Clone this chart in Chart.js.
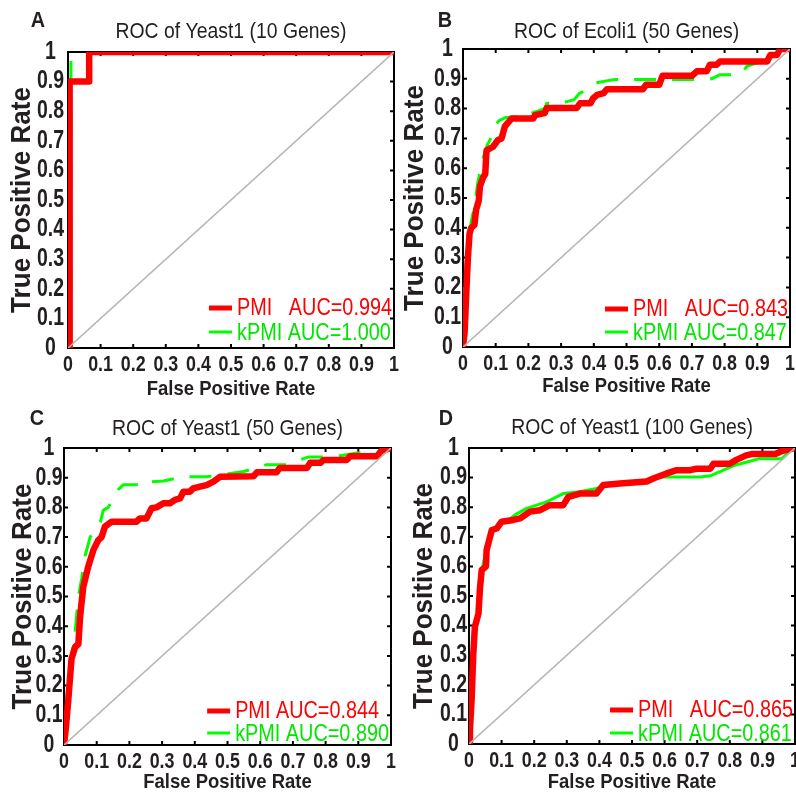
<!DOCTYPE html>
<html lang="en">
<head>
<meta charset="UTF-8">
<title>ROC curves</title>
<script src="https://cdn.jsdelivr.net/npm/chart.js"></script>
<style>
  body { margin: 0; background: #fff; width: 796px; height: 794px; overflow: hidden; position: relative; }
  canvas { position: absolute; }
</style>
</head>
<body>
<canvas id="rocA"></canvas>
<canvas id="rocB"></canvas>
<canvas id="rocC"></canvas>
<canvas id="rocD"></canvas>
<script>
// axis ticks, shared by all four panels
const tickValues = [0, 0.1, 0.2, 0.3, 0.4, 0.5, 0.6, 0.7, 0.8, 0.9, 1];
const tickLabels = ["0", "0.1", "0.2", "0.3", "0.4", "0.5", "0.6", "0.7", "0.8", "0.9", "1"];

// [FPR, TPR] points
const pmiA  = [[0.005,0],[0.005,0.9],[0.065,0.9],[0.065,1],[1,1]];
const kpmiA = [[0.009,0],[0.009,1],[1,1]];

const pmiB = [[0,0],[0.005,0.05],[0.01,0.18],[0.015,0.3],[0.02,0.38],[0.025,0.4],[0.035,0.41],[0.04,0.46],
  [0.048,0.49],[0.052,0.54],[0.062,0.57],[0.068,0.58],[0.072,0.66],[0.092,0.672],[0.107,0.695],[0.118,0.7],
  [0.128,0.74],[0.149,0.767],[0.215,0.767],[0.22,0.778],[0.25,0.785],[0.256,0.802],[0.348,0.802],[0.358,0.818],
  [0.39,0.818],[0.398,0.835],[0.41,0.846],[0.43,0.852],[0.44,0.865],[0.55,0.865],[0.56,0.88],[0.6,0.88],
  [0.61,0.91],[0.7,0.91],[0.715,0.925],[0.745,0.925],[0.755,0.947],[0.776,0.947],[0.786,0.958],[0.93,0.958],
  [0.94,0.98],[0.96,0.98],[0.97,1],[1,1]];
const kpmiB = [[0,0],[0.005,0.2],[0.012,0.32],[0.025,0.42],[0.035,0.47],[0.045,0.55],[0.06,0.63],[0.075,0.68],
  [0.085,0.7],[0.1,0.745],[0.11,0.76],[0.13,0.77],[0.2,0.775],[0.21,0.785],[0.25,0.8],[0.256,0.818],[0.3,0.818],
  [0.34,0.83],[0.355,0.85],[0.39,0.87],[0.405,0.886],[0.465,0.898],[0.75,0.898],[0.76,0.9],[0.786,0.914],
  [0.85,0.914],[0.868,0.942],[0.89,0.95],[0.94,0.97],[0.97,1],[1,1]];

const pmiC = [[0,0],[0.005,0.05],[0.013,0.15],[0.023,0.29],[0.034,0.33],[0.044,0.34],[0.049,0.43],[0.059,0.533],
  [0.074,0.6],[0.09,0.657],[0.105,0.69],[0.115,0.7],[0.125,0.735],[0.146,0.752],[0.222,0.752],[0.232,0.763],
  [0.252,0.763],[0.268,0.797],[0.283,0.8],[0.304,0.814],[0.324,0.814],[0.339,0.825],[0.355,0.83],[0.365,0.853],
  [0.385,0.853],[0.395,0.864],[0.416,0.87],[0.436,0.875],[0.457,0.887],[0.477,0.903],[0.58,0.905],[0.59,0.918],
  [0.65,0.918],[0.66,0.933],[0.743,0.933],[0.753,0.95],[0.784,0.95],[0.794,0.96],[0.865,0.96],[0.875,0.972],
  [0.957,0.972],[0.97,0.99],[1,1]];
const kpmiC = [[0,0],[0.005,0.1],[0.013,0.22],[0.023,0.3],[0.034,0.38],[0.044,0.5],[0.054,0.56],[0.064,0.635],
  [0.08,0.7],[0.1,0.73],[0.11,0.745],[0.12,0.79],[0.135,0.8],[0.166,0.86],[0.181,0.876],[0.25,0.876],
  [0.253,0.885],[0.304,0.889],[0.365,0.903],[0.436,0.903],[0.508,0.914],[0.55,0.921],[0.62,0.944],[0.68,0.944],
  [0.748,0.97],[0.824,0.97],[0.896,0.983],[0.957,0.983],[0.98,0.994],[1,1]];

const pmiD = [[0,0],[0.003,0.05],[0.008,0.15],[0.013,0.3],[0.018,0.396],[0.029,0.44],[0.034,0.53],[0.039,0.588],
  [0.052,0.6],[0.054,0.655],[0.07,0.723],[0.085,0.728],[0.1,0.751],[0.136,0.757],[0.157,0.762],[0.187,0.785],
  [0.218,0.79],[0.248,0.807],[0.289,0.807],[0.305,0.835],[0.34,0.846],[0.391,0.846],[0.412,0.875],[0.463,0.88],
  [0.524,0.885],[0.545,0.887],[0.565,0.897],[0.606,0.914],[0.637,0.925],[0.678,0.925],[0.698,0.93],[0.74,0.93],
  [0.75,0.947],[0.8,0.947],[0.82,0.96],[0.85,0.975],[0.87,0.98],[0.94,0.98],[0.96,0.99],[1,1]];
const kpmiD = [[0,0],[0.005,0.12],[0.01,0.25],[0.018,0.4],[0.029,0.45],[0.034,0.52],[0.042,0.6],[0.05,0.64],
  [0.059,0.68],[0.07,0.715],[0.085,0.73],[0.1,0.745],[0.12,0.755],[0.141,0.774],[0.177,0.796],[0.238,0.818],
  [0.289,0.846],[0.34,0.852],[0.391,0.863],[0.42,0.872],[0.46,0.878],[0.5,0.885],[0.54,0.892],[0.575,0.902],
  [0.71,0.902],[0.74,0.906],[0.77,0.92],[0.81,0.94],[0.87,0.958],[0.89,0.964],[0.96,0.964],[0.98,0.985],[1,1]];

const diagonal = [[0,0],[1,1]];

const letters = ["A", "B", "C", "D"];
const titles = ["ROC of Yeast1 (10 Genes)", "ROC of Ecoli1 (50 Genes)", "ROC of Yeast1 (50 Genes)", "ROC of Yeast1 (100 Genes)"];
const pmiLabels = ["PMI   AUC=0.994", "PMI   AUC=0.843", "PMI AUC=0.844", "PMI   AUC=0.865"];
const kpmiLabels = ["kPMI AUC=1.000", "kPMI AUC=0.847", "kPMI AUC=0.890", "kPMI AUC=0.861"];
const pmiSeries = [pmiA, pmiB, pmiC, pmiD];
const kpmiSeries = [kpmiA, kpmiB, kpmiC, kpmiD];

const FONT = "'Liberation Sans', Arial, sans-serif";
const INK = "#231f20";
const RED = "#ff0000";
const GREEN = "#00ff00";

// the figure uses a condensed face: each text size gets its own horizontal squeeze
const SQUEEZE = { "25": 0.78, "21.5": 0.83, "28": 0.93, "21": 0.88, "21.2": 0.915, "24.5": 0.81, "22": 0.9 };
const squeezeFor = font => {
  const m = /([\d.]+)px/.exec(font);
  return (m && SQUEEZE[String(parseFloat(m[1]))]) || 0.85;
};

// where each plot box sits on the page, plus small per-panel text offsets
const panels = [
  { id: "rocA", x0: 68,  y0: 52,  w: 326, h: 296, titleY: 32, letter: [-30, -31], yGap: 46, yTick: 17.5, xGap: 41,   rows: [40, 15], dash: [22, 30], dashOff: 47 },
  { id: "rocB", x0: 463, y0: 49,  w: 327, h: 298, titleY: 35, letter: [-18, -28], yGap: 48, yTick: 15.5, xGap: 39.5, rows: [38, 14], dash: [22, 16], dashOff: 0 },
  { id: "rocC", x0: 64,  y0: 448, w: 327, h: 297, titleY: 33, letter: [-27, -29], yGap: 41, yTick: 15,   xGap: 37.5, rows: [34, 11], dash: [22, 16], dashOff: 0 },
  { id: "rocD", x0: 469, y0: 448, w: 326, h: 296, titleY: 32, letter: [-23, -29], yGap: 45, yTick: 15.5, xGap: 38.5, rows: [34, 10], dash: [], dashOff: 0 }
];

const LEFT = 68, TOP = 52, BOTTOM = 52, RIGHT = 26;

const toXY = arr => arr.map(p => ({ x: p[0], y: p[1] }));

// narrow every piece of text drawn on the chart around its anchor point
const narrowText = {
  id: "narrowText",
  beforeInit(chart) {
    const ctx = chart.ctx;
    const fill = ctx.fillText.bind(ctx);
    ctx.fillText = function (text, x, y, maxWidth) {
      const sx = squeezeFor(ctx.font);
      ctx.save();
      ctx.translate(x, y);
      ctx.scale(sx, 1);
      if (maxWidth === undefined) fill(text, 0, 0);
      else fill(text, 0, 0, maxWidth / sx);
      ctx.restore();
    };
  }
};

// box around the plot with inward tick marks on all four sides
const framePlugin = {
  id: "frame",
  beforeDatasetsDraw(chart) {
    const { ctx, chartArea: a, scales } = chart;
    ctx.save();
    ctx.strokeStyle = "#000";
    ctx.lineWidth = 2;
    ctx.strokeRect(a.left, a.top, a.right - a.left, a.bottom - a.top);
    ctx.beginPath();
    tickValues.forEach(v => {
      const x = scales.x.getPixelForValue(v);
      const y = scales.y.getPixelForValue(v);
      ctx.moveTo(x, a.bottom); ctx.lineTo(x, a.bottom - 4);
      ctx.moveTo(x, a.top); ctx.lineTo(x, a.top + 4);
      ctx.moveTo(a.left, y); ctx.lineTo(a.left + 4, y);
      ctx.moveTo(a.right, y); ctx.lineTo(a.right - 4, y);
    });
    ctx.stroke();
    ctx.restore();
  }
};

// legend in the lower right corner, plus the panel letter
const rocLegendPlugin = {
  id: "rocLegend",
  afterDraw(chart, args, opts) {
    const { ctx, chartArea: a } = chart;
    const items = chart.data.datasets.filter(d => d.label);
    ctx.save();
    ctx.font = "24.5px " + FONT;
    const w = Math.max(...items.map(d => ctx.measureText(d.label).width)) * squeezeFor(ctx.font);
    const tx = a.right - 2 - w;
    ctx.textBaseline = "middle";
    ctx.textAlign = "left";
    items.forEach((d, i) => {
      const y = a.bottom - opts.rows[i];
      ctx.fillStyle = d.textColor;
      ctx.fillText(d.label, tx, y);
      ctx.strokeStyle = d.borderColor;
      ctx.lineWidth = i === 0 ? 5 : 3;
      ctx.beginPath();
      ctx.moveTo(tx - 28, y - (i === 0 ? 0 : 1));
      ctx.lineTo(tx - 5, y - (i === 0 ? 0 : 1));
      ctx.stroke();
    });
    ctx.font = "bold 22px " + FONT;
    ctx.fillStyle = INK;
    ctx.textAlign = "center";
    ctx.fillText(opts.letter, a.left + opts.letterPos[0], a.top + opts.letterPos[1]);
    ctx.restore();
  }
};

panels.forEach((p, i) => {
  const canvas = document.getElementById(p.id);
  canvas.width = LEFT + p.w + RIGHT;
  canvas.height = TOP + p.h + BOTTOM;
  canvas.style.left = (p.x0 - LEFT) + "px";
  canvas.style.top = (p.y0 - TOP) + "px";

  new Chart(canvas, {
    type: "line",
    data: {
      datasets: [
        { label: "", data: toXY(diagonal), borderColor: "#b5b5b5", borderWidth: 1.6 },
        { label: pmiLabels[i], data: toXY(pmiSeries[i]), borderColor: RED, textColor: RED, borderWidth: 6.5 },
        { label: kpmiLabels[i], data: toXY(kpmiSeries[i]), borderColor: GREEN, textColor: "#00e600", borderWidth: 3,
          borderDash: p.dash, borderDashOffset: p.dashOff }
      ]
    },
    options: {
      responsive: false,
      animation: false,
      devicePixelRatio: 1,
      layout: { padding: { left: 0, top: 0, right: RIGHT, bottom: 0 } },
      elements: {
        point: { radius: 0 },
        line: { tension: 0, borderJoinStyle: "round", borderCapStyle: "butt" }
      },
      scales: {
        x: {
          type: "linear", min: 0, max: 1,
          afterBuildTicks: s => { s.ticks = tickValues.map(v => ({ value: v })); },
          afterFit: s => { s.height = BOTTOM; },
          ticks: {
            autoSkip: false, maxRotation: 0, minRotation: 0, padding: 4,
            color: INK, font: { family: FONT, size: 21.5, weight: "bold" },
            callback: (v, idx) => tickLabels[idx]
          },
          grid: { display: false, drawTicks: false },
          border: { display: false },
          title: {
            display: true, text: "False Positive Rate", color: INK,
            font: { family: FONT, size: 21, weight: "bold", lineHeight: 1 },
            padding: { top: 0, bottom: BOTTOM - p.xGap - 10.5 }
          }
        },
        y: {
          type: "linear", min: 0, max: 1,
          afterBuildTicks: s => { s.ticks = tickValues.map(v => ({ value: v })); },
          afterFit: s => { s.width = LEFT; },
          ticks: {
            autoSkip: false, crossAlign: "center", padding: p.yTick - 17.4,
            color: INK, font: { family: FONT, size: 25, weight: "bold" },
            callback: (v, idx) => tickLabels[idx]
          },
          grid: { display: false, drawTicks: false },
          border: { display: false },
          title: {
            display: true, text: "True Positive Rate", color: INK,
            font: { family: FONT, size: 28, weight: "bold", lineHeight: 1 },
            padding: { top: LEFT - p.yGap - 14, bottom: 0 }
          }
        }
      },
      plugins: {
        legend: { display: false },
        tooltip: { enabled: false },
        title: {
          display: true, fullSize: false, text: titles[i], color: INK,
          font: { family: FONT, size: 21.2, weight: "normal", lineHeight: 1.2 },
          padding: { top: p.titleY - 12.72, bottom: TOP - 25.44 - (p.titleY - 12.72) }
        },
        rocLegend: { rows: p.rows, letter: letters[i], letterPos: p.letter }
      }
    },
    plugins: [narrowText, framePlugin, rocLegendPlugin]
  });
});
</script>
</body>
</html>
